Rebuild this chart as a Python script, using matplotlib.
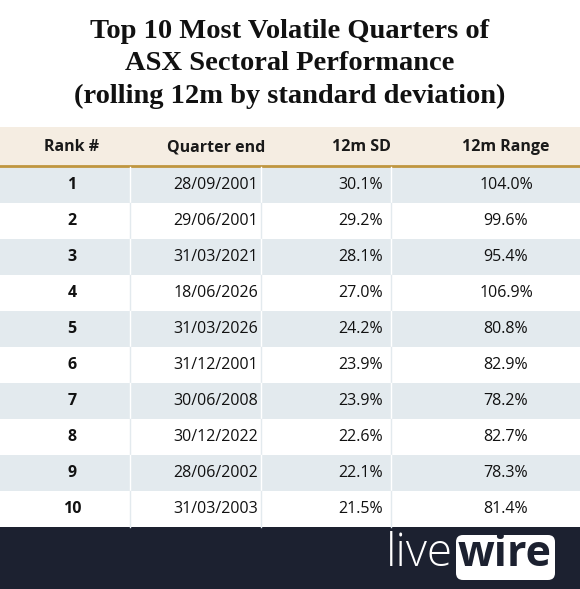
import matplotlib
matplotlib.use("Agg")
import matplotlib.pyplot as plt
from matplotlib.patches import Rectangle, FancyBboxPatch

title = "Top 10 Most Volatile Quarters of\nASX Sectoral Performance\n(rolling 12m by standard deviation)"
headers = ["Rank #", "Quarter end", "12m SD", "12m Range"]
ranks = ["1", "2", "3", "4", "5", "6", "7", "8", "9", "10"]
quarters = ["28/09/2001", "29/06/2001", "31/03/2021", "18/06/2026", "31/03/2026",
            "31/12/2001", "30/06/2008", "30/12/2022", "28/06/2002", "31/03/2003"]
sd = ["30.1%", "29.2%", "28.1%", "27.0%", "24.2%", "23.9%", "23.9%", "22.6%", "22.1%", "21.5%"]
rng = ["104.0%", "99.6%", "95.4%", "106.9%", "80.8%", "82.9%", "78.2%", "82.7%", "78.3%", "81.4%"]

W, H = 580, 589
fig = plt.figure(figsize=(W/100, H/100), dpi=100)
ax = fig.add_axes([0, 0, 1, 1])
ax.set_xlim(0, W); ax.set_ylim(H, 0); ax.axis("off")

for k, line in enumerate(title.split("\n")):
    ax.text(290, 32 + 32*k, line, ha="center", va="center", family="Liberation Serif",
            fontweight="bold", fontsize=20.5, color="#111111")

body = "Open Sans"
colx = [72, 216, 361, 506]
seps = [130, 261, 391]
ax.add_patch(Rectangle((0, 127), W, 39, color="#f5ede2", lw=0))
ax.plot([0, W], [166, 166], color="#c0963f", lw=2)
for x, h in zip(colx, headers):
    ax.text(x, 147, h, ha="center", va="center", family=body, fontweight="bold",
            fontsize=11.5, color="#1a1a1a")

rh = 36
for i in range(10):
    y0 = 167 + i*rh
    blue = i % 2 == 0
    ax.add_patch(Rectangle((0, y0), W, rh, color="#e3eaee" if blue else "white", lw=0))
    for s in seps:
        ax.plot([s, s], [y0, y0+rh], color="white" if blue else "#e3eaee", lw=1)
    yc = y0 + rh/2
    vals = [ranks[i], quarters[i], sd[i], rng[i]]
    for j, (x, v) in enumerate(zip(colx, vals)):
        ax.text(x, yc, v, ha="center", va="center", family=body,
                fontweight="bold" if j == 0 else "normal", fontsize=11.5, color="#111111")

ax.add_patch(Rectangle((0, 527), W, H-527, color="#1c2130", lw=0))
ax.text(419, 554, "live", ha="center", va="center", family="Open Sans", fontsize=33,
        fontweight="light", color="white")
ax.add_patch(FancyBboxPatch((456, 535), 99, 45, boxstyle="round,pad=0,rounding_size=7",
                            color="white", lw=0))
ax.text(505, 554, "wire", ha="center", va="center", family="Open Sans", fontweight="bold",
        fontsize=31, color="#1c2130")

fig.savefig("out.png", dpi=100)
